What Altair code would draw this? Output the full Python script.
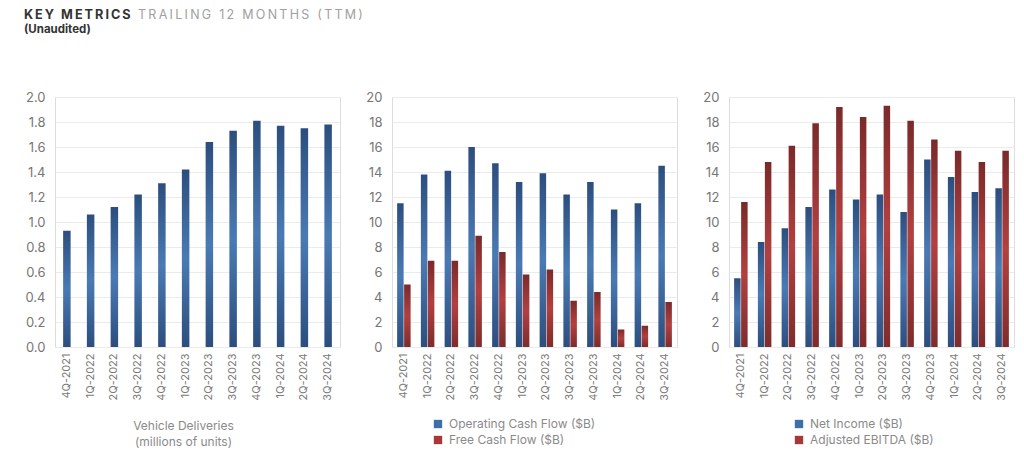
import altair as alt
import pandas as pd

quarters = ["4Q-2021", "1Q-2022", "2Q-2022", "3Q-2022", "4Q-2022", "1Q-2023",
            "2Q-2023", "3Q-2023", "4Q-2023", "1Q-2024", "2Q-2024", "3Q-2024"]
deliveries = [0.93, 1.06, 1.12, 1.22, 1.31, 1.42, 1.64, 1.73, 1.81, 1.77, 1.75, 1.78]
operating_cf = [11.5, 13.8, 14.1, 16.0, 14.7, 13.2, 13.9, 12.2, 13.2, 11.0, 11.5, 14.5]
free_cf = [5.0, 6.9, 6.9, 8.9, 7.6, 5.8, 6.2, 3.7, 4.4, 1.4, 1.7, 3.6]
net_income = [5.5, 8.4, 9.5, 11.2, 12.6, 11.8, 12.2, 10.8, 15.0, 13.6, 12.4, 12.7]
adj_ebitda = [11.6, 14.8, 16.1, 17.9, 19.2, 18.4, 19.3, 18.1, 16.6, 15.7, 14.8, 15.7]

FONT = "Inter"
BLUE = "#3f6fa8"
RED = "#a83838"

blue_grad = alt.LinearGradient(
    gradient="linear", x1=0, x2=0, y1=0, y2=1,
    stops=[alt.GradientStop(offset=0, color="#2c4e7e"),
           alt.GradientStop(offset=0.5, color="#4a7ab4"),
           alt.GradientStop(offset=1, color="#2c4e7e")])
red_grad = alt.LinearGradient(
    gradient="linear", x1=0, x2=0, y1=0, y2=1,
    stops=[alt.GradientStop(offset=0, color="#7a2a2a"),
           alt.GradientStop(offset=0.5, color="#b24040"),
           alt.GradientStop(offset=1, color="#7e2c2c")])

W, H = 285, 250


def x_axis(**kw):
    return alt.Axis(labelAngle=-90, labelFontSize=11, labelColor="#7a7a7a",
                    labelPadding=6, ticks=False, domain=False, grid=False, **kw)


def y_axis(values, fmt):
    return alt.Axis(values=values, format=fmt, labelFontSize=13, labelColor="#767676",
                    labelPadding=10, ticks=False, domain=False, grid=True,
                    gridColor="#ebebeb", title=None)


x_scale = alt.Scale(paddingInner=0.5, paddingOuter=0.25)

# Panel 1: deliveries
df1 = pd.DataFrame({"quarter": quarters, "value": deliveries})
bars1 = alt.Chart(df1).mark_bar(color=blue_grad, width=7.5).encode(
    x=alt.X("quarter:N", sort=quarters, scale=x_scale,
            axis=x_axis(title=["Vehicle Deliveries", "(millions of units)"],
                        titleX=128, titlePadding=20, titleFontWeight="normal",
                        titleColor="#8a8a8a", titleFontSize=12, titleLineHeight=16,
                        titleFont=FONT)),
    y=alt.Y("value:Q", scale=alt.Scale(domain=[0, 2]),
            axis=y_axis([round(i * 0.2, 1) for i in range(11)], ".1f")),
)

head = pd.DataFrame({"t": ["x"]})
spaced = lambda s: "\u2009".join(list(s))
title1 = alt.Chart(head).mark_text(align="left", baseline="middle", fontSize=12.7,
                                   fontWeight="bold", color="#333333", font=FONT).encode(
    x=alt.value(-31), y=alt.value(-82), text=alt.value(spaced("KEY METRICS")))
title2 = alt.Chart(head).mark_text(align="left", baseline="middle", fontSize=12.5,
                                   color="#a0a0a0", font=FONT).encode(
    x=alt.value(83), y=alt.value(-82), text=alt.value(spaced("TRAILING 12 MONTHS (TTM)")))
title3 = alt.Chart(head).mark_text(align="left", baseline="middle", fontSize=11.5,
                                   fontWeight="bold", color="#333333", font=FONT).encode(
    x=alt.value(-31), y=alt.value(-67), text=alt.value("(Unaudited)"))

panel1 = alt.layer(bars1, title1, title2, title3).properties(width=W, height=H)


def grouped(a_name, a_vals, b_name, b_vals, legend_x):
    df = pd.DataFrame({"quarter": quarters * 2,
                       "series": [a_name] * len(quarters) + [b_name] * len(quarters),
                       "value": a_vals + b_vals})
    base = alt.Chart(df).encode(
        x=alt.X("quarter:N", sort=quarters, scale=x_scale, axis=x_axis(title=None)),
        y=alt.Y("value:Q", scale=alt.Scale(domain=[0, 20]),
                axis=y_axis(list(range(0, 21, 2)), "d")),
    )
    ba = base.transform_filter(alt.datum.series == a_name).mark_bar(
        color=blue_grad, width=6.5, xOffset=-3.5)
    bb = base.transform_filter(alt.datum.series == b_name).mark_bar(
        color=red_grad, width=6.5, xOffset=3.5)
    leg = base.mark_bar(opacity=0, width=1).encode(
        color=alt.Color("series:N",
                        scale=alt.Scale(domain=[a_name, b_name], range=[BLUE, RED]),
                        legend=alt.Legend(orient="none", legendX=legend_x, legendY=321,
                                          title=None, direction="vertical",
                                          symbolType="square", symbolSize=70,
                                          symbolOpacity=1, symbolStrokeWidth=0,
                                          labelFontSize=12, labelColor="#8a8a8a",
                                          labelFont=FONT, rowPadding=4,
                                          labelOffset=5)))
    return alt.layer(ba, bb, leg).properties(width=W, height=H)


panel2 = grouped("Operating Cash Flow ($B)", operating_cf, "Free Cash Flow ($B)", free_cf, 40)
panel3 = grouped("Net Income ($B)", net_income, "Adjusted EBITDA ($B)", adj_ebitda, 64)

chart = alt.hconcat(panel1, panel2, panel3, spacing=52, bounds="flush").resolve_scale(
    color="independent").properties(
    padding={"left": 15, "top": -59, "right": 0, "bottom": 4}
).configure_view(stroke="transparent", strokeWidth=0).configure_axis(
    labelFont=FONT, titleFont=FONT).configure(font=FONT)

chart.save("out.html", embed_options={"renderer": "svg", "actions": False})
